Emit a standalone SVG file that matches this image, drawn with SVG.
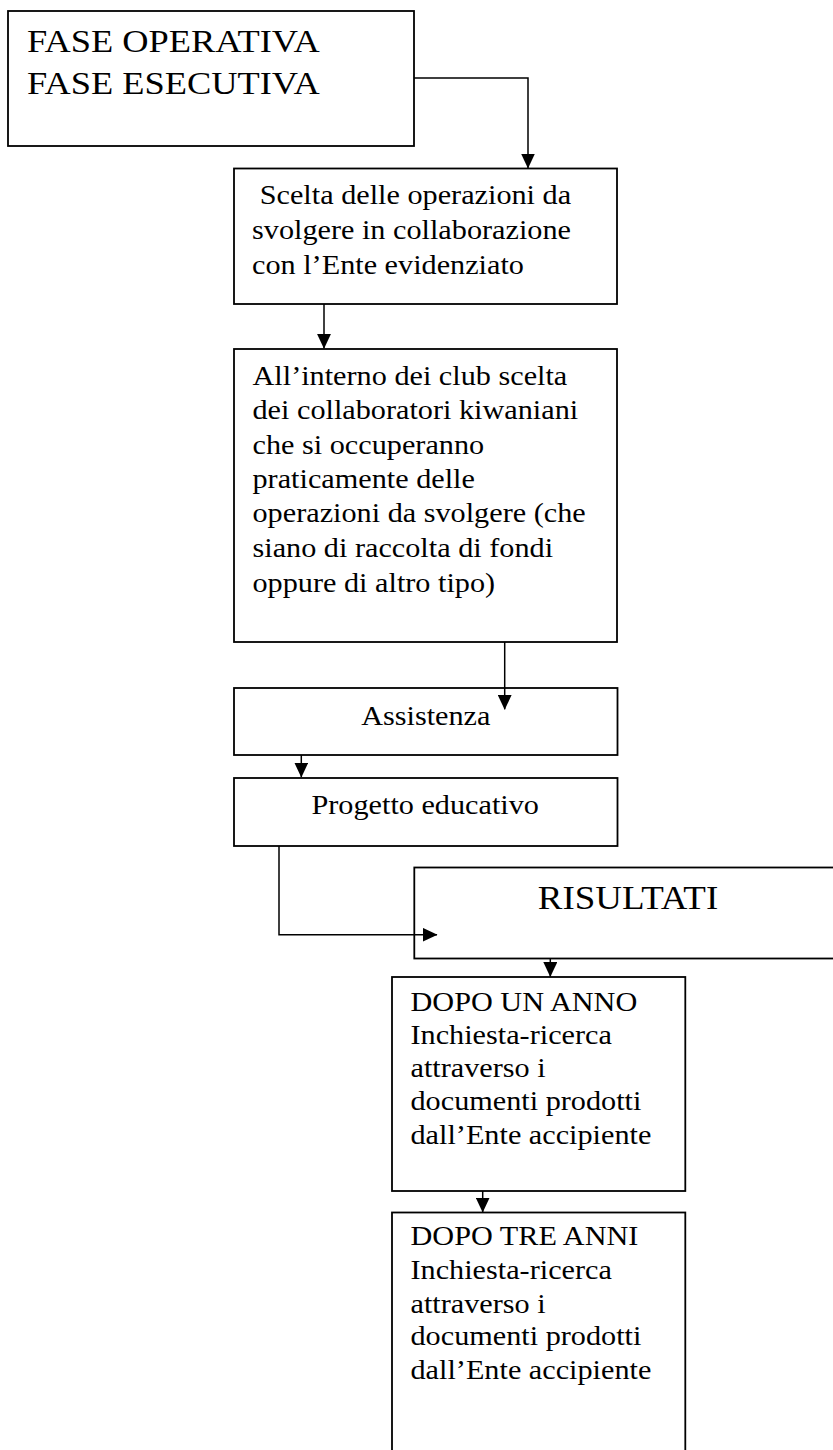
<svg xmlns="http://www.w3.org/2000/svg" width="833" height="1450" viewBox="0 0 833 1450">
<style>
.box{fill:#fff;stroke:#000;stroke-width:1.8}
.ln{fill:none;stroke:#000;stroke-width:1.5}
.t{font-family:"Liberation Serif","Times New Roman",serif;font-size:27px;fill:#000}
.big{font-size:31.5px}
.res{font-size:33px}
</style>
<defs>
<marker id="ah" markerUnits="userSpaceOnUse" markerWidth="15" markerHeight="14" viewBox="0 0 15 14" refX="14.5" refY="7" orient="auto">
<path d="M0,0 L15,7 L0,14 Z" fill="#000"/>
</marker>
</defs>
<rect x="0" y="0" width="833" height="1450" fill="#fff"/>

<g id="n1">
<rect class="box" x="8" y="11" width="406" height="135"/>
<g transform="matrix(1.155,0,0,1,27,0)"><text class="t big" x="0" y="52"><tspan x="0" y="52">FASE OPERATIVA</tspan><tspan x="0" y="94">FASE ESECUTIVA</tspan></text></g>
</g>

<g id="n2">
<rect class="box" x="234" y="168.5" width="383" height="135.5"/>
<g transform="matrix(1.12,0,0,1,252,0)"><text class="t"><tspan x="6.9" y="204">Scelta delle operazioni da</tspan><tspan x="0" y="239.5">svolgere in collaborazione</tspan><tspan x="0" y="274.5">con l’Ente evidenziato</tspan></text></g>
</g>

<g id="n3">
<rect class="box" x="234" y="349" width="383" height="293"/>
<g transform="matrix(1.12,0,0,1,252.5,0)"><text class="t"><tspan x="0" y="385">All’interno dei club scelta</tspan><tspan x="0" y="419.5">dei collaboratori kiwaniani</tspan><tspan x="0" y="454">che si occuperanno</tspan><tspan x="0" y="488">praticamente delle</tspan><tspan x="0" y="522.5">operazioni da svolgere (che</tspan><tspan x="0" y="557.5">siano di raccolta di fondi</tspan><tspan x="0" y="592">oppure di altro tipo)</tspan></text></g>
</g>

<g id="n4">
<rect class="box" x="234" y="688" width="383.5" height="67"/>
<g transform="matrix(1.12,0,0,1,425.8,0)"><text class="t" x="0" y="725" text-anchor="middle">Assistenza</text></g>
</g>

<g id="n5">
<rect class="box" x="234" y="778" width="383.5" height="68"/>
<g transform="matrix(1.12,0,0,1,425.2,0)"><text class="t" x="0" y="814" text-anchor="middle">Progetto educativo</text></g>
</g>

<g id="n6">
<rect class="box" x="414.3" y="867.5" width="430" height="91"/>
<g transform="matrix(1.12,0,0,1,628,0)"><text class="t res" x="0" y="909.3" text-anchor="middle">RISULTATI</text></g>
</g>

<g id="n7">
<rect class="box" x="392" y="977" width="293.3" height="214"/>
<g transform="matrix(1.12,0,0,1,410.5,0)"><text class="t"><tspan x="0" y="1011">DOPO UN ANNO</tspan><tspan x="0" y="1044.3">Inchiesta-ricerca</tspan><tspan x="0" y="1076.7">attraverso i</tspan><tspan x="0" y="1110">documenti prodotti</tspan><tspan x="0" y="1144.3">dall’Ente accipiente</tspan></text></g>
</g>

<g id="n8">
<rect class="box" x="392" y="1212.5" width="293.3" height="260"/>
<g transform="matrix(1.12,0,0,1,410.5,0)"><text class="t"><tspan x="0" y="1245.3">DOPO TRE ANNI</tspan><tspan x="0" y="1279.3">Inchiesta-ricerca</tspan><tspan x="0" y="1312.7">attraverso i</tspan><tspan x="0" y="1345.3">documenti prodotti</tspan><tspan x="0" y="1379">dall’Ente accipiente</tspan></text></g>
</g>

<g id="connectors">
<path class="ln" d="M414,78 H528 V168" marker-end="url(#ah)"/>
<path class="ln" d="M324,304 V348.3" marker-end="url(#ah)"/>
<path class="ln" d="M504.7,642 V709.3" marker-end="url(#ah)"/>
<path class="ln" d="M301.3,755 V777" marker-end="url(#ah)"/>
<path class="ln" d="M279,846 V934.7 H437" marker-end="url(#ah)"/>
<path class="ln" d="M550.3,958.5 V976.5" marker-end="url(#ah)"/>
<path class="ln" d="M482.7,1191 V1212" marker-end="url(#ah)"/>
</g>
</svg>
